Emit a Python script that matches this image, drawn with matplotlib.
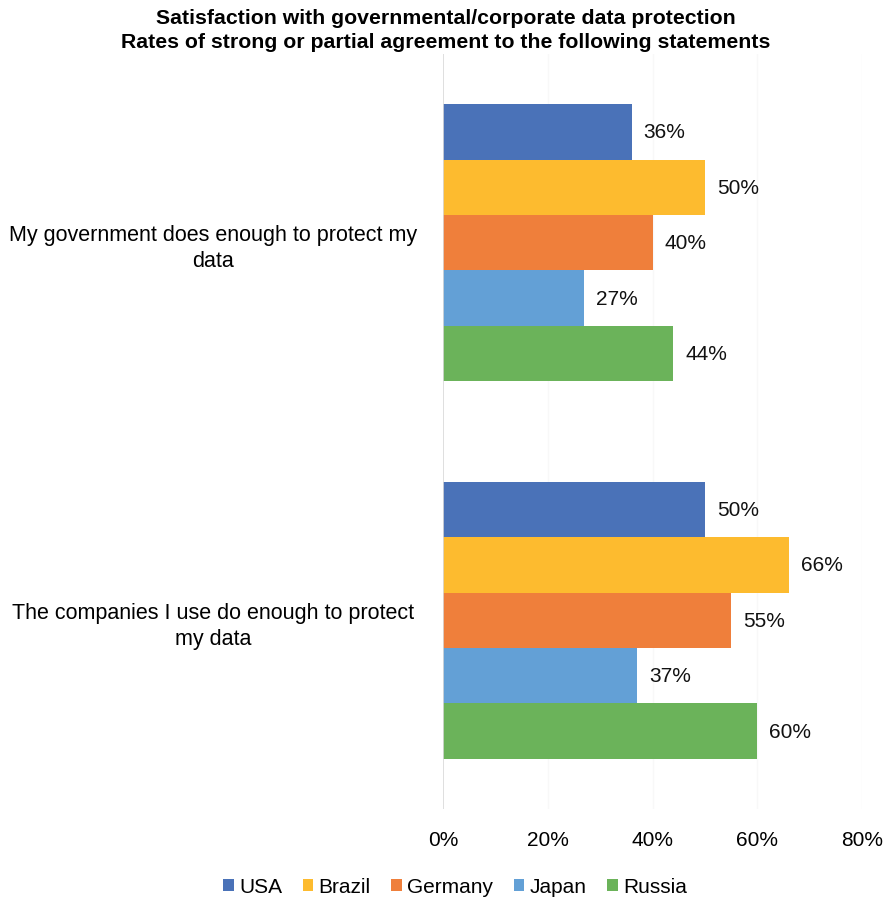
import matplotlib
matplotlib.use("Agg")
import matplotlib.pyplot as plt
import numpy as np

plt.rcParams['font.family'] = ['Liberation Sans', 'DejaVu Sans']

statements = ["My government does enough to protect my\ndata",
              "The companies I use do enough to protect\nmy data"]
countries = ["USA", "Brazil", "Germany", "Japan", "Russia"]
usa = [36, 50]
brazil = [50, 66]
germany = [40, 55]
japan = [27, 37]
russia = [44, 60]
series = [usa, brazil, germany, japan, russia]
colors = ['#4a72b8', '#fdbb2f', '#ef7f3b', '#63a0d6', '#6bb35a']
xticks = [0, 20, 40, 60, 80]

fig = plt.figure(figsize=(8.92, 9.04), dpi=100)
ax = fig.add_axes([443/892, 1 - 810/904, (862-443)/892, (810-55)/904])

bar_h = 0.1467
y = np.arange(len(statements))
for i, (name, vals, c) in enumerate(zip(countries, series, colors)):
    pos = y - 2*bar_h + i*bar_h
    ax.barh(pos, vals, height=bar_h, color=c, label=name, zorder=2)
    for p, v in zip(pos, vals):
        ax.text(v + 2.3, p, f"{v}%", va='center', ha='left', fontsize=15, color='#111111')

ax.set_xlim(0, 80)
ax.set_ylim(1.5, -0.5)
ax.set_xticks(xticks)
ax.set_xticklabels([f"{t}%" for t in xticks], fontsize=15)
ax.set_yticks(y)
ax.set_yticklabels(statements, fontsize=15.5, ha='center', multialignment='center',
                   linespacing=1.3)
for lbl in ax.get_yticklabels():
    lbl.set_x(-0.548)
ax.tick_params(axis='both', length=0)
ax.tick_params(axis='x', pad=15)
ax.tick_params(axis='y', pad=0)
for s in ax.spines.values():
    s.set_visible(False)
for t in xticks[1:]:
    ax.axvline(t, color='#f8f8f8', lw=1, zorder=1)
ax.axvline(0, color='#d9d9d9', lw=1.2, zorder=3)

fig.text(0.5, 1 - 18/904, "Satisfaction with governmental/corporate data protection",
         ha='center', va='center', fontsize=15.3, fontweight='bold')
fig.text(0.5, 1 - 43/904, "Rates of strong or partial agreement to the following statements",
         ha='center', va='center', fontsize=15.3, fontweight='bold')

fig.legend(loc='center', bbox_to_anchor=(455/892, 1 - 888/904), ncol=5, frameon=False,
           fontsize=15, handlelength=0.5, handleheight=0.55, handletextpad=0.25,
           columnspacing=1.0)

fig.savefig("out.png", dpi=100)
